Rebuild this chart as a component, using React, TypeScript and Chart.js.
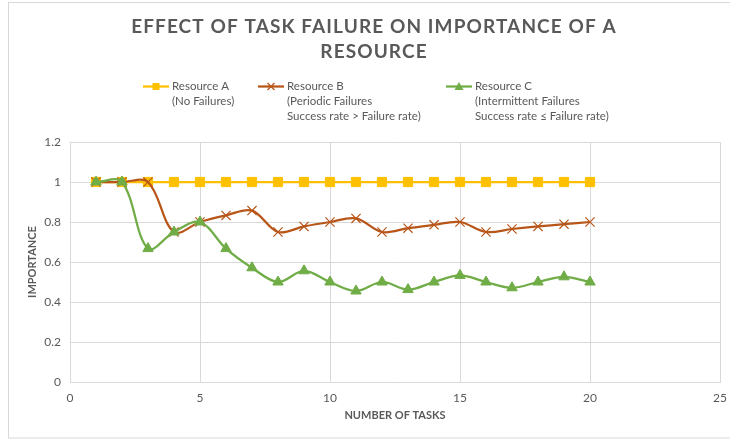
import React, { useEffect, useRef } from 'react';
import { Chart, registerables } from 'chart.js';

Chart.register(...registerables);

// ---- data ----
const tasks = [1, 2, 3, 4, 5, 6, 7, 8, 9, 10, 11, 12, 13, 14, 15, 16, 17, 18, 19, 20];
const resourceA = [1, 1, 1, 1, 1, 1, 1, 1, 1, 1, 1, 1, 1, 1, 1, 1, 1, 1, 1, 1];
const resourceB = [1, 1, 1, 0.75, 0.8, 0.833, 0.857, 0.75, 0.778, 0.8, 0.818, 0.75, 0.769, 0.786, 0.8, 0.75, 0.765, 0.778, 0.789, 0.8];
const resourceC = [1, 1, 0.667, 0.75, 0.8, 0.667, 0.571, 0.5, 0.556, 0.5, 0.455, 0.5, 0.462, 0.5, 0.533, 0.5, 0.471, 0.5, 0.526, 0.5];
const titleLines = ['EFFECT OF TASK FAILURE ON IMPORTANCE OF A', 'RESOURCE'];
const legendA = ['Resource A', '(No Failures)'];
const legendB = ['Resource B', '(Periodic Failures', 'Success rate > Failure rate)'];
const legendC = ['Resource C', '(Intermittent Failures', 'Success rate \u2264 Failure rate)'];
const xAxisTitle = 'NUMBER OF TASKS';
const yAxisTitle = 'IMPORTANCE';

const COLOR_A = '#FFC000';
const COLOR_B = '#B8561A';
const COLOR_C = '#70AD47';
const TEXT = '#595959';
const GRID = '#D9D9D9';
const FONT = 'Lato, "Open Sans", sans-serif';

const toPoints = (ys: number[]) => tasks.map((x, i) => ({ x, y: ys[i] }));

function drawMarker(ctx: CanvasRenderingContext2D, style: string, x: number, y: number, color: string) {
  ctx.save();
  ctx.fillStyle = color;
  ctx.strokeStyle = color;
  if (style === 'rect') {
    ctx.fillRect(x - 3.5, y - 3.5, 7, 7);
  } else if (style === 'cross') {
    ctx.lineWidth = 1.3;
    ctx.beginPath();
    ctx.moveTo(x - 3.5, y - 3.5);
    ctx.lineTo(x + 3.5, y + 3.5);
    ctx.moveTo(x + 3.5, y - 3.5);
    ctx.lineTo(x - 3.5, y + 3.5);
    ctx.stroke();
  } else {
    ctx.beginPath();
    ctx.moveTo(x, y - 4.5);
    ctx.lineTo(x + 4.5, y + 3.5);
    ctx.lineTo(x - 4.5, y + 3.5);
    ctx.closePath();
    ctx.fill();
  }
  ctx.restore();
}

const decorPlugin = {
  id: 'decor',
  beforeDraw(chart: any) {
    const ctx: CanvasRenderingContext2D = chart.ctx;
    ctx.save();
    ctx.fillStyle = '#ffffff';
    ctx.fillRect(0, 0, chart.width, chart.height);
    ctx.strokeStyle = GRID;
    ctx.lineWidth = 1;
    ctx.strokeRect(8.5, 2.5, chart.width + 10, 435.5);
    ctx.restore();
  },
  afterDraw(chart: any) {
    const ctx: CanvasRenderingContext2D = chart.ctx;
    ctx.save();
    // title
    ctx.fillStyle = TEXT;
    ctx.font = `bold 19px ${FONT}`;
    (ctx as any).letterSpacing = '1.1px';
    ctx.textAlign = 'center';
    ctx.textBaseline = 'middle';
    ctx.fillText(titleLines[0], 374, 27);
    ctx.fillText(titleLines[1], 374, 52);
    (ctx as any).letterSpacing = '0px';

    // legend
    const items = [
      { lines: legendA, color: COLOR_A, marker: 'rect', x: 143 },
      { lines: legendB, color: COLOR_B, marker: 'cross', x: 258 },
      { lines: legendC, color: COLOR_C, marker: 'triangle', x: 446 },
    ];
    ctx.font = `11.5px ${FONT}`;
    ctx.textAlign = 'left';
    items.forEach((it) => {
      const y0 = 86.5;
      ctx.strokeStyle = it.color;
      ctx.lineWidth = 2.25;
      ctx.beginPath();
      ctx.moveTo(it.x, y0);
      ctx.lineTo(it.x + 26, y0);
      ctx.stroke();
      drawMarker(ctx, it.marker, it.x + 13, y0, it.color);
      ctx.fillStyle = TEXT;
      it.lines.forEach((t, i) => ctx.fillText(t, it.x + 29, y0 + i * 15));
    });
    ctx.restore();
  },
};

export default function App() {
  const ref = useRef<HTMLCanvasElement | null>(null);
  useEffect(() => {
    document.body.style.margin = '0';
    if (!ref.current) return;
    const chart = new Chart(ref.current, {
      type: 'line',
      data: {
        datasets: [
          {
            label: 'Resource A',
            data: toPoints(resourceA),
            borderColor: COLOR_A,
            backgroundColor: COLOR_A,
            borderWidth: 2.25,
            pointStyle: 'rect',
            pointRadius: 6.5,
            pointBorderWidth: 1,
            pointBorderColor: COLOR_A,
            pointBackgroundColor: COLOR_A,
            tension: 0,
            order: 2,
          },
          {
            label: 'Resource B',
            data: toPoints(resourceB),
            borderColor: COLOR_B,
            backgroundColor: COLOR_B,
            borderWidth: 2.25,
            pointStyle: 'crossRot',
            pointRadius: 6.5,
            pointBorderWidth: 1.2,
            pointBorderColor: COLOR_B,
            tension: 0.35,
            order: 1,
          },
          {
            label: 'Resource C',
            data: toPoints(resourceC),
            borderColor: COLOR_C,
            backgroundColor: COLOR_C,
            borderWidth: 2.25,
            pointStyle: 'triangle',
            pointRadius: 6,
            pointBorderWidth: 1,
            pointBorderColor: COLOR_C,
            pointBackgroundColor: COLOR_C,
            tension: 0.35,
            order: 0,
          },
        ],
      },
      options: {
        responsive: false,
        animation: false,
        layout: { padding: { left: 8, right: 10, top: 142, bottom: 0 } },
        plugins: {
          legend: { display: false },
          title: { display: false },
          tooltip: { enabled: false },
        },
        scales: {
          x: {
            type: 'linear',
            min: 0,
            max: 25,
            ticks: { stepSize: 5, color: TEXT, font: { family: FONT, size: 12 }, padding: 9, maxRotation: 0 },
            grid: { color: GRID, drawTicks: false },
            border: { color: GRID },
            title: {
              display: true,
              text: xAxisTitle,
              color: TEXT,
              font: { family: FONT, size: 11, weight: 'bold' },
              padding: { top: 0, bottom: 18.5 },
            },
            afterFit: (s: any) => { s.height = 59; s.paddingLeft = 0; s.paddingRight = 0; },
          },
          y: {
            type: 'linear',
            min: 0,
            max: 1.2,
            ticks: {
              stepSize: 0.2,
              color: TEXT,
              font: { family: FONT, size: 12 },
              padding: 9,
              callback: (v: any) => String(Math.round(Number(v) * 10) / 10),
            },
            grid: { color: GRID, drawTicks: false },
            border: { color: GRID },
            title: {
              display: true,
              text: yAxisTitle,
              color: TEXT,
              font: { family: FONT, size: 11, weight: 'bold' },
              padding: { top: 18, bottom: 0 },
            },
            afterFit: (s: any) => { s.width = 62; s.paddingTop = 0; s.paddingBottom = 0; },
          },
        },
      },
      plugins: [decorPlugin],
    } as any);
    return () => chart.destroy();
  }, []);
  return (
    <div style={{ width: 730, height: 441 }}>
      <canvas ref={ref} width={730} height={441} />
    </div>
  );
}
